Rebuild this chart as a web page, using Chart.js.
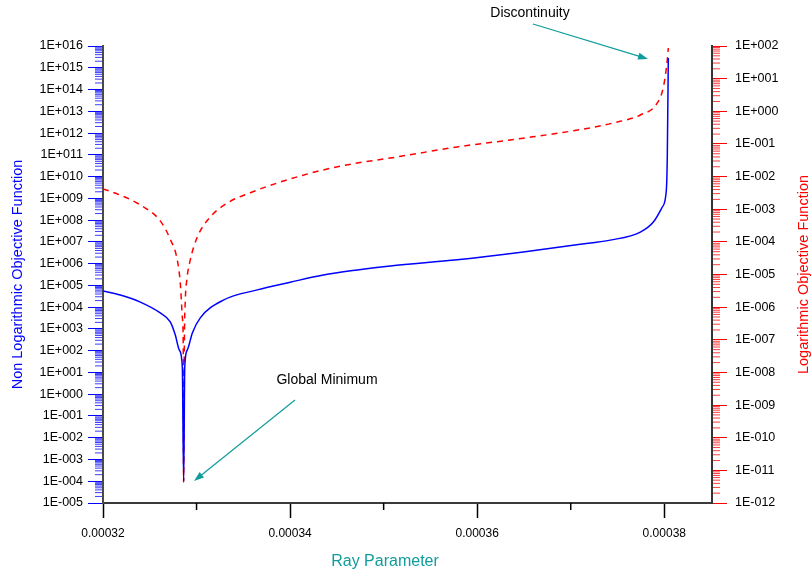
<!DOCTYPE html>
<html>
<head>
<meta charset="utf-8">
<script src="https://cdn.jsdelivr.net/npm/chart.js@4"></script>
<style>
  html, body { margin: 0; padding: 0; background: #fff; }
  #wrap { width: 811px; height: 576px; }
</style>
</head>
<body>
<div id="wrap"><canvas id="chart" width="811" height="576"></canvas></div>
<script>
/* ======== DATA ======== */
// Non logarithmic objective function (left axis)
const nonLogX = [0.00032, 0.00032185, 0.00032399, 0.00032612, 0.00032719, 0.00032773, 0.00032816, 0.00032848,
    0.00032862, 0.00032874, 0.00032901, 0.00032955, 0.00033040, 0.00033286, 0.00033649, 0.00034002, 0.00034355,
    0.00034718, 0.00035071, 0.00035787, 0.00036493, 0.00037209, 0.00037422, 0.00037744, 0.00037883, 0.00037979,
    0.00038022, 0.00038032, 0.00038043]
const nonLogValues = [5.5e4, 3.6e4, 1.7e4, 5.4e3, 2.1e3, 520, 107, 18,
    1e-4, 18, 107, 650, 3.2e3, 2.1e4, 6.2e4, 1.4e5, 3.0e5,
    5.1e5, 7.8e5, 1.5e6, 3.4e6, 8.9e6, 1.2e7, 2.8e7, 8.1e7, 4e8,
    2.4e9, 7.9e10, 2.8e15]

// Logarithmic objective function (right axis)
const logX = [0.00032, 0.00032185, 0.00032399, 0.00032612, 0.00032719, 0.00032794, 0.00032826, 0.00032848,
    0.00032858, 0.00032862, 0.00032869, 0.00032880, 0.00032896, 0.00032933, 0.00033008, 0.00033147, 0.00033329,
    0.00033575, 0.00033895, 0.00034355, 0.00034718, 0.00035071, 0.00035787, 0.00036493, 0.00037209, 0.00037455,
    0.00037744, 0.00037925, 0.00037990, 0.00038032, 0.00038043]
const logValues = [4.2e-3, 2.7e-3, 1.35e-3, 4.4e-4, 1.2e-4, 2.8e-5, 5.5e-6, 5e-7,
    4.9e-8, 4.4e-12, 4.9e-8, 1.66e-6, 6.8e-6, 2.8e-5, 1.4e-4, 5.8e-4, 1.55e-3,
    3.2e-3, 6.8e-3, 1.6e-2, 2.6e-2, 3.7e-2, 8.1e-2, 0.15, 0.31, 0.44,
    0.77, 1.8, 5.5, 37, 87]

// tick values
const xTicks = [0.00032, 0.00034, 0.00036, 0.00038]
const xMinorTicks = [0.00033, 0.00035, 0.00037]
const leftExps = [-5, -4, -3, -2, -1, 0, 1, 2, 3, 4, 5, 6, 7, 8, 9, 10, 11, 12, 13, 14, 15, 16]
const rightExps = [-12, -11, -10, -9, -8, -7, -6, -5, -4, -3, -2, -1, 0, 1, 2]

/* ======== HELPERS ======== */
const FONT = "'Liberation Sans', Arial, sans-serif"
const TEAL = "#119c9c"

function fmtExp(v) {
    const e = Math.round(Math.log10(v))
    return "1E" + (e < 0 ? "-" : "+") + String(Math.abs(e)).padStart(3, "0")
}

function toPoints(xs, ys) {
    return xs.map((x, i) => ({x: x, y: ys[i]}))
}

function drawArrow(ctx, x1, y1, x2, y2) {
    const ang = Math.atan2(y2 - y1, x2 - x1)
    const len = 10, half = 3.5
    ctx.beginPath()
    ctx.moveTo(x1, y1)
    ctx.lineTo(x2 - Math.cos(ang) * len * 0.8, y2 - Math.sin(ang) * len * 0.8)
    ctx.stroke()
    ctx.beginPath()
    ctx.moveTo(x2, y2)
    ctx.lineTo(x2 - Math.cos(ang) * len + Math.sin(ang) * half, y2 - Math.sin(ang) * len - Math.cos(ang) * half)
    ctx.lineTo(x2 - Math.cos(ang) * len - Math.sin(ang) * half, y2 - Math.sin(ang) * len + Math.cos(ang) * half)
    ctx.closePath()
    ctx.fill()
}

/* minor ticks, axis titles and the two notes */
const decorPlugin = {
    id: "decor",
    afterDraw(chart) {
        const ctx = chart.ctx
        const area = chart.chartArea
        const sx = chart.scales.x, sy = chart.scales.y, sy2 = chart.scales.y2
        ctx.save()
        ctx.lineWidth = 1

        // left minor ticks
        ctx.strokeStyle = "rgba(40,40,255,0.9)"
        for (let e = -5; e < 16; e++) {
            for (let k = 2; k <= 9; k++) {
                const py = sy.getPixelForValue(k * Math.pow(10, e))
                ctx.beginPath(); ctx.moveTo(area.left - 8, py); ctx.lineTo(area.left - 1, py); ctx.stroke()
            }
        }
        // right minor ticks
        ctx.strokeStyle = "rgba(255,40,40,0.9)"
        for (let e = -12; e < 2; e++) {
            for (let k = 2; k <= 9; k++) {
                const py = sy2.getPixelForValue(k * Math.pow(10, e))
                ctx.beginPath(); ctx.moveTo(area.right + 1, py); ctx.lineTo(area.right + 8, py); ctx.stroke()
            }
        }
        // x minor ticks
        ctx.strokeStyle = "#000"
        ctx.lineWidth = 1.5
        xMinorTicks.forEach(v => {
            const px = sx.getPixelForValue(v)
            ctx.beginPath(); ctx.moveTo(px, area.bottom); ctx.lineTo(px, area.bottom + 7); ctx.stroke()
        })

        // axis titles
        ctx.textAlign = "center"
        ctx.textBaseline = "middle"
        ctx.font = "14.5px " + FONT
        ctx.fillStyle = "#0000ff"
        ctx.save(); ctx.translate(18, (area.top + area.bottom) / 2); ctx.rotate(-Math.PI / 2)
        ctx.fillText("Non Logarithmic Objective Function", 0, 0); ctx.restore()
        ctx.fillStyle = "#ff0000"
        ctx.save(); ctx.translate(804, (area.top + area.bottom) / 2); ctx.rotate(-Math.PI / 2)
        ctx.fillText("Logarithmic Objective Function", 0, 0); ctx.restore()
        ctx.font = "16px " + FONT
        ctx.fillStyle = TEAL
        ctx.fillText("Ray Parameter", 385, 562)

        // notes
        ctx.font = "14px " + FONT
        ctx.fillStyle = "#000"
        ctx.fillText("Discontinuity", 530, 13)
        ctx.fillText("Global Minimum", 327, 380)
        ctx.strokeStyle = TEAL
        ctx.fillStyle = TEAL
        ctx.lineWidth = 1.2
        drawArrow(ctx, 533, 24, 648, 59)
        drawArrow(ctx, 295, 400, 194, 481)
        ctx.restore()
    }
}

/* ======== CHART ======== */
const ctxChart = document.getElementById("chart").getContext("2d")
const objChart = new Chart(ctxChart, {
    type: "line",
    data: {
        datasets: [{
            label: "Non Logarithmic Objective Function",
            data: toPoints(nonLogX, nonLogValues),
            yAxisID: "y",
            borderColor: "#0000ff",
            borderWidth: 1.5,
            pointRadius: 0,
            cubicInterpolationMode: "monotone",
            fill: false
        }, {
            label: "Logarithmic Objective Function",
            data: toPoints(logX, logValues),
            yAxisID: "y2",
            borderColor: "#ff0000",
            borderWidth: 1.5,
            borderDash: [6, 5],
            pointRadius: 0,
            cubicInterpolationMode: "monotone",
            fill: false
        }]
    },
    options: {
        responsive: false,
        animation: false,
        devicePixelRatio: 1,
        layout: {padding: {top: 46, left: 0, right: 0, bottom: 0}},
        plugins: {
            legend: {display: false},
            tooltip: {enabled: false}
        },
        scales: {
            x: {
                type: "linear",
                min: 0.00032,
                max: 0.0003851,
                afterBuildTicks: s => { s.ticks = xTicks.map(v => ({value: v})) },
                afterFit: s => { s.height = 73 },
                ticks: {
                    callback: v => v.toFixed(5),
                    font: {family: FONT, size: 12},
                    color: "#000",
                    padding: 8,
                    maxRotation: 0,
                    autoSkip: false
                },
                grid: {drawOnChartArea: false, tickLength: 15, tickColor: "#000", tickWidth: 1.5},
                border: {color: "#3a3a3a", width: 2}
            },
            y: {
                type: "logarithmic",
                position: "left",
                min: 1e-5,
                max: 1e16,
                afterBuildTicks: s => { s.ticks = leftExps.map(e => ({value: Math.pow(10, e)})) },
                afterFit: s => { s.width = 103 },
                ticks: {
                    callback: v => fmtExp(v),
                    font: {family: FONT, size: 12.5},
                    color: "#000",
                    padding: 5,
                    autoSkip: false
                },
                grid: {drawOnChartArea: false, tickLength: 15, tickColor: "#0000ff", tickWidth: 1},
                border: {color: "#4a4a4a", width: 2}
            },
            y2: {
                type: "logarithmic",
                position: "right",
                min: 1e-12,
                max: 1e2,
                afterBuildTicks: s => { s.ticks = rightExps.map(e => ({value: Math.pow(10, e)})) },
                afterFit: s => { s.width = 99 },
                ticks: {
                    callback: v => fmtExp(v),
                    font: {family: FONT, size: 12.5},
                    color: "#000",
                    padding: 8,
                    autoSkip: false
                },
                grid: {drawOnChartArea: false, tickLength: 15, tickColor: "#ff0000", tickWidth: 1},
                border: {color: "#333", width: 2}
            }
        }
    },
    plugins: [decorPlugin]
})
</script>
</body>
</html>
